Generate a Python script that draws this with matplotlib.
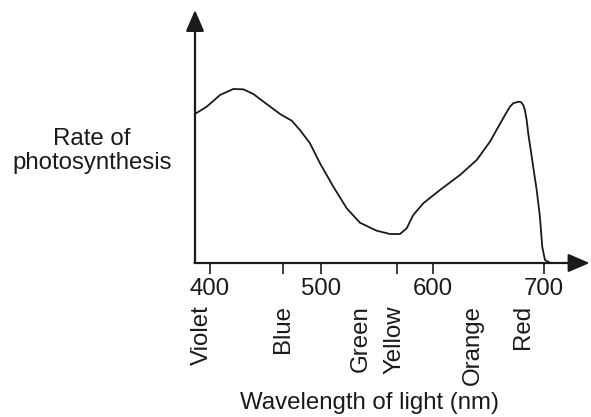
import matplotlib.pyplot as plt

plt.rcParams["font.family"] = ["Liberation Sans", "DejaVu Sans"]

# curve: wavelength (nm) vs rate (arbitrary units)
wavelength = [386.5, 387.4, 397.0, 409.0, 420.9, 429.9, 438.9, 450.9, 462.9,
              473.4, 480.8, 489.8, 498.8, 510.8, 522.8, 534.7, 549.7, 561.7,
              570.7, 576.7, 582.6, 591.6, 606.6, 624.6, 639.6, 651.5, 665.0,
              669.5, 672.4, 677.0, 679.5, 681.4, 682.9, 684.5, 685.9, 689.9,
              693.5, 696.4, 698.5, 700.9, 705.4]
rate = [150, 149.7, 156.3, 168, 174, 173.7, 169, 159, 149,
        142.3, 133, 119.7, 99.7, 76.3, 54.7, 40.3, 32.3, 29,
        29, 34.7, 48, 59.7, 73, 88, 103, 121.3, 148,
        156.3, 159.7, 161.3, 160.8, 158, 153, 143, 129.7, 99.7,
        73, 46.3, 16.3, 3, 0.3]

tick_values = [400, 500, 600, 700]
minor_ticks = [466, 568]
colour_names = ["Violet", "Blue", "Green", "Yellow", "Orange", "Red"]
colour_pos = [393, 466, 535, 566, 636, 681]

W, H = 591, 417
FS = 17.3
fig = plt.figure(figsize=(W / 100, H / 100), dpi=100)
ax = fig.add_axes([195 / W, (H - 263) / H, (589 - 195) / W, 253 / H])
ax.set_xlim(386.5, 740.5)
ax.set_ylim(0, 253)
for s in ax.spines.values():
    s.set_visible(False)

ax.plot(wavelength, rate, color="#1a1a1a", lw=1.3, clip_on=False,
        solid_capstyle="round", solid_joinstyle="round")

arrow = dict(arrowstyle="-|>,head_length=0.65,head_width=0.28", color="#1a1a1a",
             lw=1.6, mutation_scale=20, shrinkA=0, shrinkB=0)
ax.annotate("", xy=(386.5, 253), xytext=(386.5, 0), arrowprops=arrow,
            annotation_clip=False)
ax.annotate("", xy=(741, 0), xytext=(386.0, 0), arrowprops=arrow,
            annotation_clip=False)

ax.set_yticks([])
ax.set_xticks(tick_values)
ax.set_xticklabels([str(v) for v in tick_values], fontsize=FS)
ax.set_xticks(minor_ticks, minor=True)
ax.tick_params(axis="x", which="both", direction="out", length=8, width=1.2,
               pad=3, colors="#1a1a1a")

for name, x in zip(colour_names, colour_pos):
    ax.text(x, -42, name, rotation=90, ha="center", va="top", fontsize=FS,
            color="#1a1a1a", clip_on=False)

fig.text(370 / W, 1 - 403 / H, "Wavelength of light (nm)", ha="center",
         va="center", fontsize=FS, color="#1a1a1a")
fig.text(92 / W, 1 - 151 / H, "Rate of\nphotosynthesis", ha="center",
         va="center", fontsize=FS, color="#1a1a1a", linespacing=1.1)

fig.savefig("out.png", dpi=100)
